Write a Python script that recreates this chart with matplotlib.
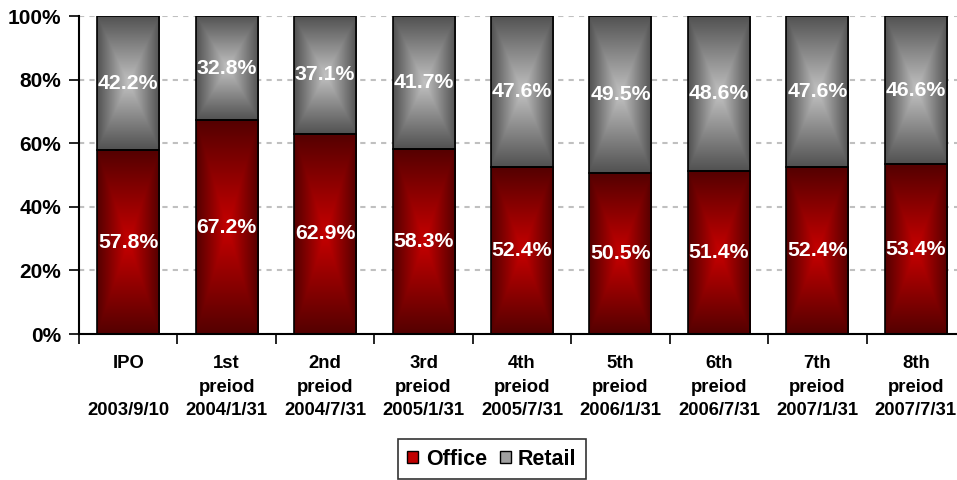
import numpy as np
import matplotlib
matplotlib.use('Agg')
import matplotlib.pyplot as plt
from matplotlib.patches import Patch
from matplotlib.ticker import FuncFormatter

plt.rcParams.update({
    'font.family': 'Liberation Sans', 'font.weight': 'bold',
})

# Office / retail share of portfolio per period
periods = ["IPO\n \n2003/9/10", "1st\npreiod\n2004/1/31", "2nd\npreiod\n2004/7/31",
           "3rd\npreiod\n2005/1/31", "4th\npreiod\n2005/7/31", "5th\npreiod\n2006/1/31",
           "6th\npreiod\n2006/7/31", "7th\npreiod\n2007/1/31", "8th\npreiod\n2007/7/31"]
office = [57.8, 67.2, 62.9, 58.3, 52.4, 50.5, 51.4, 52.4, 53.4]
retail = [42.2, 32.8, 37.1, 41.7, 47.6, 49.5, 48.6, 47.6, 46.6]

RED_EDGE, RED_MID = np.array([0.33, 0.0, 0.0]), np.array([0.78, 0.0, 0.0])
GRY_EDGE, GRY_MID = np.array([0.32, 0.32, 0.32]), np.array([0.76, 0.76, 0.76])


def rect_gradient(edge, mid, n=120):
    # "from centre" fill: bright in the middle, dark towards every side
    u = np.linspace(-1, 1, n)
    t = np.maximum(np.abs(u)[None, :], np.abs(u)[:, None])
    t = t[..., None]
    return mid * (1 - t) + edge * t


fig = plt.figure(figsize=(9.57, 4.8), dpi=100)
ax = fig.add_axes([79 / 957, 1 - 334 / 480, 886 / 957, 318 / 480])

x = np.arange(len(periods))
w = 0.63
off = np.array(office) / 100
ret = np.array(retail) / 100

bars_o = ax.bar(x, off, w, facecolor='none', edgecolor='black', lw=1.2, zorder=3)
bars_r = ax.bar(x, ret, w, bottom=off, facecolor='none', edgecolor='black', lw=1.2, zorder=3)

red_img = rect_gradient(RED_EDGE, RED_MID)
gry_img = rect_gradient(GRY_EDGE, GRY_MID)
for bars, img in ((bars_o, red_img), (bars_r, gry_img)):
    for b in bars:
        x0, y0 = b.get_x(), b.get_y()
        ax.imshow(img, extent=(x0, x0 + b.get_width(), y0, y0 + b.get_height()),
                  aspect='auto', zorder=2, interpolation='bilinear')

for i in range(len(x)):
    ax.text(x[i], off[i] / 2, f"{office[i]:.1f}%", ha='center', va='center',
            color='white', fontsize=15.3, fontweight='bold', zorder=4)
    ax.text(x[i], off[i] + ret[i] / 2, f"{retail[i]:.1f}%", ha='center', va='center',
            color='white', fontsize=15.3, fontweight='bold', zorder=4)

ax.set_xlim(-0.5, len(x) - 0.5)
ax.set_ylim(0, 1)

ax.set_yticks(np.arange(0, 1.01, 0.2))
ax.yaxis.set_major_formatter(FuncFormatter(lambda v, p: f"{v:.0%}"))
ax.tick_params(axis='y', direction='out', length=7, width=1.2, pad=6, labelsize=15)

ax.set_xticks(np.arange(-0.5, len(x)), labels=[])
ax.set_xticks(x, labels=periods, minor=True)
ax.tick_params(axis='x', which='major', direction='out', length=7, width=1.2)
ax.tick_params(axis='x', which='minor', length=0, pad=15, labelsize=13.3)
for lab in ax.get_xticklabels(minor=True):
    lab.set_linespacing(1.52)

ax.yaxis.grid(True, color='#c0c0c0', lw=1.5, linestyle=(0, (2.5, 2.5)), zorder=0)
ax.set_axisbelow(True)
for s in ('top', 'right'):
    ax.spines[s].set_visible(False)
for s in ('left', 'bottom'):
    ax.spines[s].set_linewidth(1.5)

handles = [Patch(facecolor='#c00000', edgecolor='black', label='Office'),
           Patch(facecolor='#a0a0a0', edgecolor='black', label='Retail')]
leg = fig.legend(handles=handles, loc='upper center', bbox_to_anchor=(492 / 957, 1 - 439 / 480),
                 ncol=2, fontsize=15.5, frameon=True, fancybox=False, edgecolor='black',
                 handlelength=0.5, handleheight=0.5, handletextpad=0.35, columnspacing=0.6,
                 borderpad=0.45, borderaxespad=0)
leg.get_frame().set_linewidth(1.2)

fig.savefig('out.png', dpi=100)
